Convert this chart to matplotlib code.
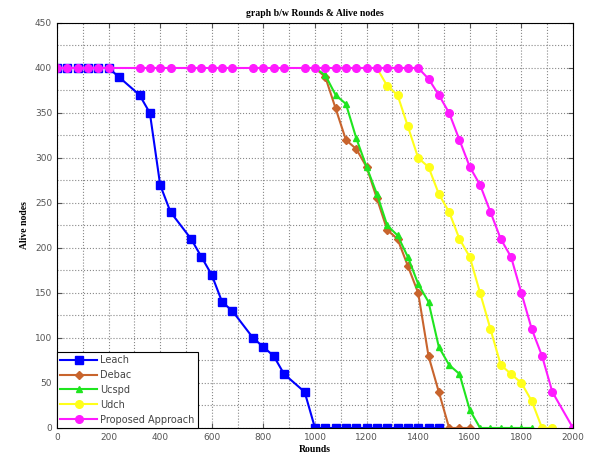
import matplotlib
matplotlib.use("Agg")
import matplotlib.pyplot as plt
from matplotlib.ticker import MultipleLocator

# rounds / alive nodes
leach_x = [0, 40, 80, 120, 160, 200, 240, 320, 360, 400, 440, 520, 560, 600, 640, 680,
           760, 800, 840, 880, 960, 1000, 1040, 1080, 1120, 1160, 1200, 1240, 1280, 1320,
           1360, 1400, 1440, 1480]
leach_y = [400, 400, 400, 400, 400, 400, 390, 370, 350, 270, 240, 210, 190, 170, 140, 130,
           100, 90, 80, 60, 40, 0, 0, 0, 0, 0, 0, 0, 0, 0,
           0, 0, 0, 0]

debac_x = [0, 1000, 1040, 1080, 1120, 1160, 1200, 1240, 1280, 1320, 1360, 1400, 1440, 1480,
           1520, 1560, 1600]
debac_y = [400, 400, 390, 355, 320, 310, 290, 255, 220, 210, 180, 150, 80, 40,
           0, 0, 0]

ucspd_x = [0, 1000, 1040, 1080, 1120, 1160, 1200, 1240, 1280, 1320, 1360, 1400, 1440, 1480,
           1520, 1560, 1600, 1640, 1680, 1720, 1760, 1800, 1840]
ucspd_y = [400, 400, 392, 370, 360, 322, 290, 260, 225, 214, 190, 160, 140, 90,
           70, 60, 20, 0, 0, 0, 0, 0, 0]

udch_x = [0, 1240, 1280, 1320, 1360, 1400, 1440, 1480, 1520, 1560, 1600, 1640, 1680, 1720,
          1760, 1800, 1840, 1880, 1920]
udch_y = [400, 400, 380, 370, 335, 300, 290, 260, 240, 210, 190, 150, 110, 70,
          60, 50, 30, 0, 0]

prop_x = [0, 40, 80, 120, 160, 200, 320, 360, 400, 440, 520, 560, 600, 640, 680, 760, 800,
          840, 880, 960, 1000, 1040, 1080, 1120, 1160, 1200, 1240, 1280, 1320, 1360, 1400,
          1440, 1480, 1520, 1560, 1600, 1640, 1680, 1720, 1760, 1800, 1840, 1880, 1920, 2000]
prop_y = [400, 400, 400, 400, 400, 400, 400, 400, 400, 400, 400, 400, 400, 400, 400, 400, 400,
          400, 400, 400, 400, 400, 400, 400, 400, 400, 400, 400, 400, 400, 400,
          388, 370, 350, 320, 290, 270, 240, 210, 190, 150, 110, 80, 40, 0]

fig = plt.figure(figsize=(5.96, 4.57), dpi=100)
ax = fig.add_axes([0.0956, 0.0635, 0.8658, 0.8862])

ax.plot(leach_x, leach_y, color='#0000ff', marker='s', markersize=6, linewidth=1.5, label='Leach')
ax.plot(debac_x[1:], debac_y[1:], color='#c8642d', marker='D', markersize=4.5, linewidth=1.5,
        markevery=list(range(1, len(debac_x) - 1)), label='Debac')
ax.plot(ucspd_x[1:], ucspd_y[1:], color='#1fe51f', marker='^', markersize=5, linewidth=1.5,
        markevery=list(range(1, len(ucspd_x) - 1)), label='Ucspd')
ax.plot(udch_x[1:], udch_y[1:], color='#ffff1a', marker='o', markersize=5.5, linewidth=1.5,
        markevery=list(range(1, len(udch_x) - 1)), label='Udch')
ax.plot(prop_x, prop_y, color='#ff1aff', marker='o', markersize=5.5, linewidth=1.5,
        label='Proposed Approach')

ax.set_xlim(0, 2000)
ax.set_ylim(0, 450)
ax.xaxis.set_major_locator(MultipleLocator(200))
ax.yaxis.set_major_locator(MultipleLocator(50))
ax.xaxis.set_minor_locator(MultipleLocator(100))
ax.yaxis.set_minor_locator(MultipleLocator(25))
ax.grid(which='both', linestyle=':', color='#888888', linewidth=0.8)
ax.tick_params(which='both', direction='in', top=True, right=True, labelsize=6.5,
               colors='#555555', labelcolor='#555555')
ax.tick_params(which='minor', length=0)

ax.set_title('graph b/w Rounds & Alive nodes', fontsize=7, fontweight='bold',
             family='Liberation Serif', pad=5)
ax.set_xlabel('Rounds', fontsize=7, fontweight='bold', family='Liberation Serif', labelpad=2)
ax.set_ylabel('Alive nodes', fontsize=7, fontweight='bold', family='Liberation Serif', labelpad=4)

leg = ax.legend(loc='lower left', fontsize=7, frameon=True, fancybox=False, framealpha=1,
                borderaxespad=0, handlelength=3.8, labelspacing=0.5, borderpad=0.35,
                handletextpad=0.3)
leg.get_frame().set_edgecolor('black')
leg.get_frame().set_linewidth(0.8)
for t in leg.get_texts():
    t.set_color('#444444')

fig.savefig('out.png', dpi=100)
